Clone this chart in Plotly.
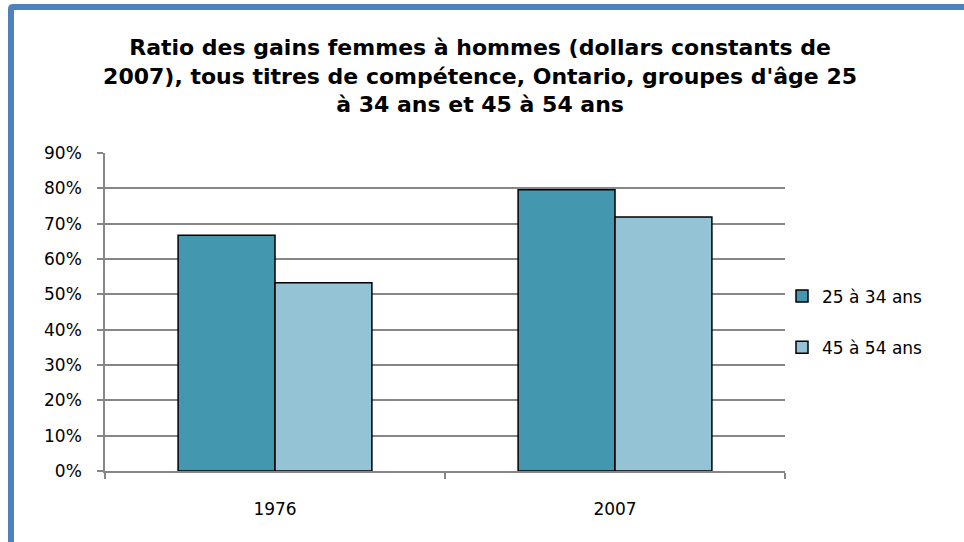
import plotly.graph_objects as go

categories = ["1976", "2007"]
series_names = ["25 à 34 ans", "45 à 54 ans"]
values_25_34 = [0.667, 0.796]
values_45_54 = [0.533, 0.719]
y_ticks = [0, 0.1, 0.2, 0.3, 0.4, 0.5, 0.6, 0.7, 0.8, 0.9]
y_tick_labels = ["0%", "10%", "20%", "30%", "40%", "50%", "60%", "70%", "80%", "90%"]
title_text = ("Ratio des gains femmes à hommes (dollars constants de<br>"
              "2007), tous titres de compétence, Ontario, groupes d'âge 25<br>"
              "à 34 ans et 45 à 54 ans")

W, H = 964, 542
L, R, T, B = 105, 179, 153, 71
PW, PH = W - L - R, H - T - B

def px(x):
    return (x - L) / PW

def py(y):
    return (H - B - y) / PH

FONT = "DejaVu Sans, Arial, sans-serif"

fig = go.Figure()
fig.add_trace(go.Bar(x=categories, y=values_25_34, name=series_names[0],
                     marker=dict(color="#4398AF", line=dict(color="#000000", width=1.5)),
                     legendgroup="a"))
fig.add_trace(go.Bar(x=categories, y=values_45_54, name=series_names[1],
                     marker=dict(color="#93C3D5", line=dict(color="#000000", width=1.5)),
                     legendgroup="b"))

fig.update_layout(
    width=W, height=H,
    margin=dict(l=L, r=R, t=T, b=B),
    paper_bgcolor="white", plot_bgcolor="white",
    barmode="group", bargap=0.43, bargroupgap=0,
    font=dict(family=FONT, size=17, color="#000000"),
    title=dict(text="<b>" + title_text + "</b>", x=0.498, xanchor="center",
               y=1 - 55 / H, yanchor="middle",
               font=dict(family=FONT, size=22, color="#000000")),
    legend=dict(x=px(782), y=py(322), xanchor="left", yanchor="middle",
                font=dict(family=FONT, size=17), tracegroupgap=26,
                itemwidth=30, bgcolor="rgba(0,0,0,0)"),
    showlegend=True,
)
fig.update_xaxes(showgrid=False, showline=True, linecolor="#868686", linewidth=2,
                 ticks="outside", tickson="boundaries", ticklen=6, tickcolor="#868686",
                 tickwidth=1.5, ticklabelstandoff=22,
                 tickfont=dict(family=FONT, size=17))
fig.update_yaxes(range=[0, 0.9], tickvals=y_ticks, ticktext=y_tick_labels,
                 showgrid=True, gridcolor="#868686", gridwidth=1.5,
                 showline=True, linecolor="#868686", linewidth=1.5,
                 ticks="outside", ticklen=6, tickcolor="#868686", tickwidth=1.5,
                 ticklabelstandoff=12, zeroline=False,
                 tickfont=dict(family=FONT, size=17))

# blue frame of the chart object
fig.add_shape(type="path", xref="paper", yref="paper",
              path=f"M {px(11)},{py(560)} L {px(11)},{py(9)} Q {px(11)},{py(7)} {px(13)},{py(7)} L {px(980)},{py(7)}",
              line=dict(color="#4F81BD", width=6), layer="above")

fig.write_html("out.html", config={"displayModeBar": False},
               post_script="document.body.style.margin='0';document.body.style.overflow='hidden';")
